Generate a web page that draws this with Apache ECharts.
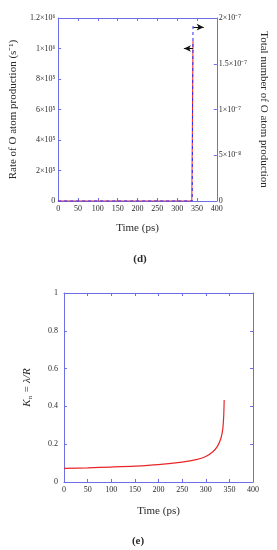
<!DOCTYPE html>
<html><head><meta charset="utf-8">
<script src="https://cdn.jsdelivr.net/npm/echarts@6/dist/echarts.min.js"></script>
<style>html,body{margin:0;padding:0;background:#fff}#c{width:277px;height:550px}</style>
</head><body><div id="c"></div>
<script>
// ---- data ----
const timeTicks = [0, 50, 100, 150, 200, 250, 300, 350, 400];
const rateLabels = ['0', '2×10⁵', '4×10⁵', '6×10⁵', '8×10⁵', '1×10⁶', '1.2×10⁶'];
const totalLabels = ['0', '5×10⁻⁸', '1×10⁻⁷', '1.5×10⁻⁷', '2×10⁻⁷'];
const rateTime = [0, 100, 200, 300, 337, 339, 340];
const rateValues = [0, 0, 0, 0, 0, 5000, 1050000];
const totalTime = [0, 100, 200, 300, 338, 339, 340];
const totalValues = [0, 0, 0, 0, 0, 2e-9, 1.92e-7];
const knTime = [0, 50, 100, 150, 200, 250, 280, 300, 315, 325, 332, 336, 338, 339];
const knValues = [0.072, 0.075, 0.079, 0.084, 0.092, 0.105, 0.118, 0.135, 0.16, 0.19, 0.23, 0.28, 0.35, 0.434];
const arrowRate = [[340, 1.0e6], [317, 1.0e6]];
const arrowTotal = [[341.5, 1.9e-7], [367, 1.9e-7]];

const FONT = 'Liberation Serif';
const BLUE = '#6e6ee6';
const TXT = '#2a2a2a';
const zip = (a, b) => a.map((v, i) => [v, b[i]]);

const axisLine = {show: true, onZero: false, lineStyle: {color: BLUE, width: 1}};
const tickIn = {show: true, inside: true, length: 3, lineStyle: {color: BLUE}};
const lab = {color: TXT, fontFamily: FONT, fontSize: 8};

function xBottom(g, gap) {
  return {gridIndex: g, type: 'value', min: 0, max: 400, interval: 50, position: 'bottom',
    axisLine, axisTick: tickIn, splitLine: {show: false},
    axisLabel: Object.assign({margin: 4}, lab),
    name: 'Time (ps)', nameLocation: 'middle', nameGap: gap,
    nameTextStyle: {color: TXT, fontFamily: FONT, fontSize: 11}};
}
function xTop(g) {
  return {gridIndex: g, type: 'value', min: 0, max: 400, interval: 50, position: 'top',
    axisLine, axisTick: tickIn, axisLabel: {show: false}, splitLine: {show: false}};
}

const option = {
  animation: false,
  backgroundColor: '#fff',
  title: [
    {text: '(d)', left: 135, top: 249, textAlign: 'center',
     textStyle: {fontFamily: FONT, fontSize: 11, fontWeight: 'bold', color: TXT}},
    {text: '(e)', left: 133, top: 531, textAlign: 'center',
     textStyle: {fontFamily: FONT, fontSize: 11, fontWeight: 'bold', color: TXT}}
  ],
  grid: [
    {left: 53, right: 51, top: 18, height: 183},
    {left: 64, right: 24, top: 293, height: 189}
  ],
  xAxis: [xBottom(0, 22), xTop(0), xBottom(1, 24), xTop(1)],
  yAxis: [
    {gridIndex: 0, type: 'value', min: 0, max: 1.2e6, interval: 2e5, position: 'left',
     axisLine, axisTick: tickIn, splitLine: {show: false},
     axisLabel: Object.assign({margin: 3, formatter: (v) => rateLabels[Math.round(v / 2e5)]}, lab),
     name: 'Rate of O atom production (s⁻¹)', nameLocation: 'middle', nameGap: 31,
     nameTextStyle: {color: TXT, fontFamily: FONT, fontSize: 11}},
    {gridIndex: 0, type: 'value', min: 0, max: 2e-7, interval: 5e-8, position: 'right',
     axisLine, axisTick: tickIn, splitLine: {show: false},
     axisLabel: Object.assign({margin: 2, formatter: (v) => totalLabels[Math.round(v / 5e-8)]}, lab),
     name: 'Total number of O atom production', nameLocation: 'middle', nameGap: 31, nameRotate: -90,
     nameTextStyle: {color: TXT, fontFamily: FONT, fontSize: 11}},
    {gridIndex: 1, type: 'value', min: 0, max: 1, interval: 0.2, position: 'left',
     axisLine, axisTick: tickIn, splitLine: {show: false},
     axisLabel: Object.assign({margin: 6}, lab),
     name: '{i|K}{s|n}{i| = λ/R}', nameLocation: 'middle', nameGap: 30,
     nameTextStyle: {color: TXT, fontFamily: FONT, fontSize: 11,
       rich: {i: {fontFamily: FONT, fontSize: 11, fontStyle: 'italic', color: TXT},
              s: {fontFamily: FONT, fontSize: 7, color: TXT, padding: [7, 0, 0, 0]}}}},
    {gridIndex: 1, type: 'value', min: 0, max: 1, interval: 0.2, position: 'right',
     axisLine, axisTick: tickIn, axisLabel: {show: false}, splitLine: {show: false}}
  ],
  series: [
    {type: 'line', xAxisIndex: 0, yAxisIndex: 0, data: zip(rateTime, rateValues),
     showSymbol: false, lineStyle: {color: '#e8262a', width: 1}, z: 3,
     markLine: {silent: true, symbol: ['none', 'arrow'], symbolSize: [5, 7], label: {show: false},
       lineStyle: {color: '#111', width: 1, type: 'solid'},
       data: [[{coord: arrowRate[0]}, {coord: arrowRate[1]}]]}},
    {type: 'line', xAxisIndex: 0, yAxisIndex: 1, data: zip(totalTime, totalValues),
     showSymbol: false, lineStyle: {color: '#2b2bff', width: 1, type: [3, 3]}, z: 4,
     markLine: {silent: true, symbol: ['none', 'arrow'], symbolSize: [5, 7], label: {show: false},
       lineStyle: {color: '#111', width: 1, type: 'solid'},
       data: [[{coord: arrowTotal[0]}, {coord: arrowTotal[1]}]]}},
    {type: 'line', xAxisIndex: 2, yAxisIndex: 2, data: zip(knTime, knValues), smooth: 0.3,
     showSymbol: false, lineStyle: {color: '#e8262a', width: 1.2}}
  ]
};
const chart = echarts.init(document.getElementById('c'), null, {renderer: 'canvas'});
chart.setOption(option);
</script></body></html>
